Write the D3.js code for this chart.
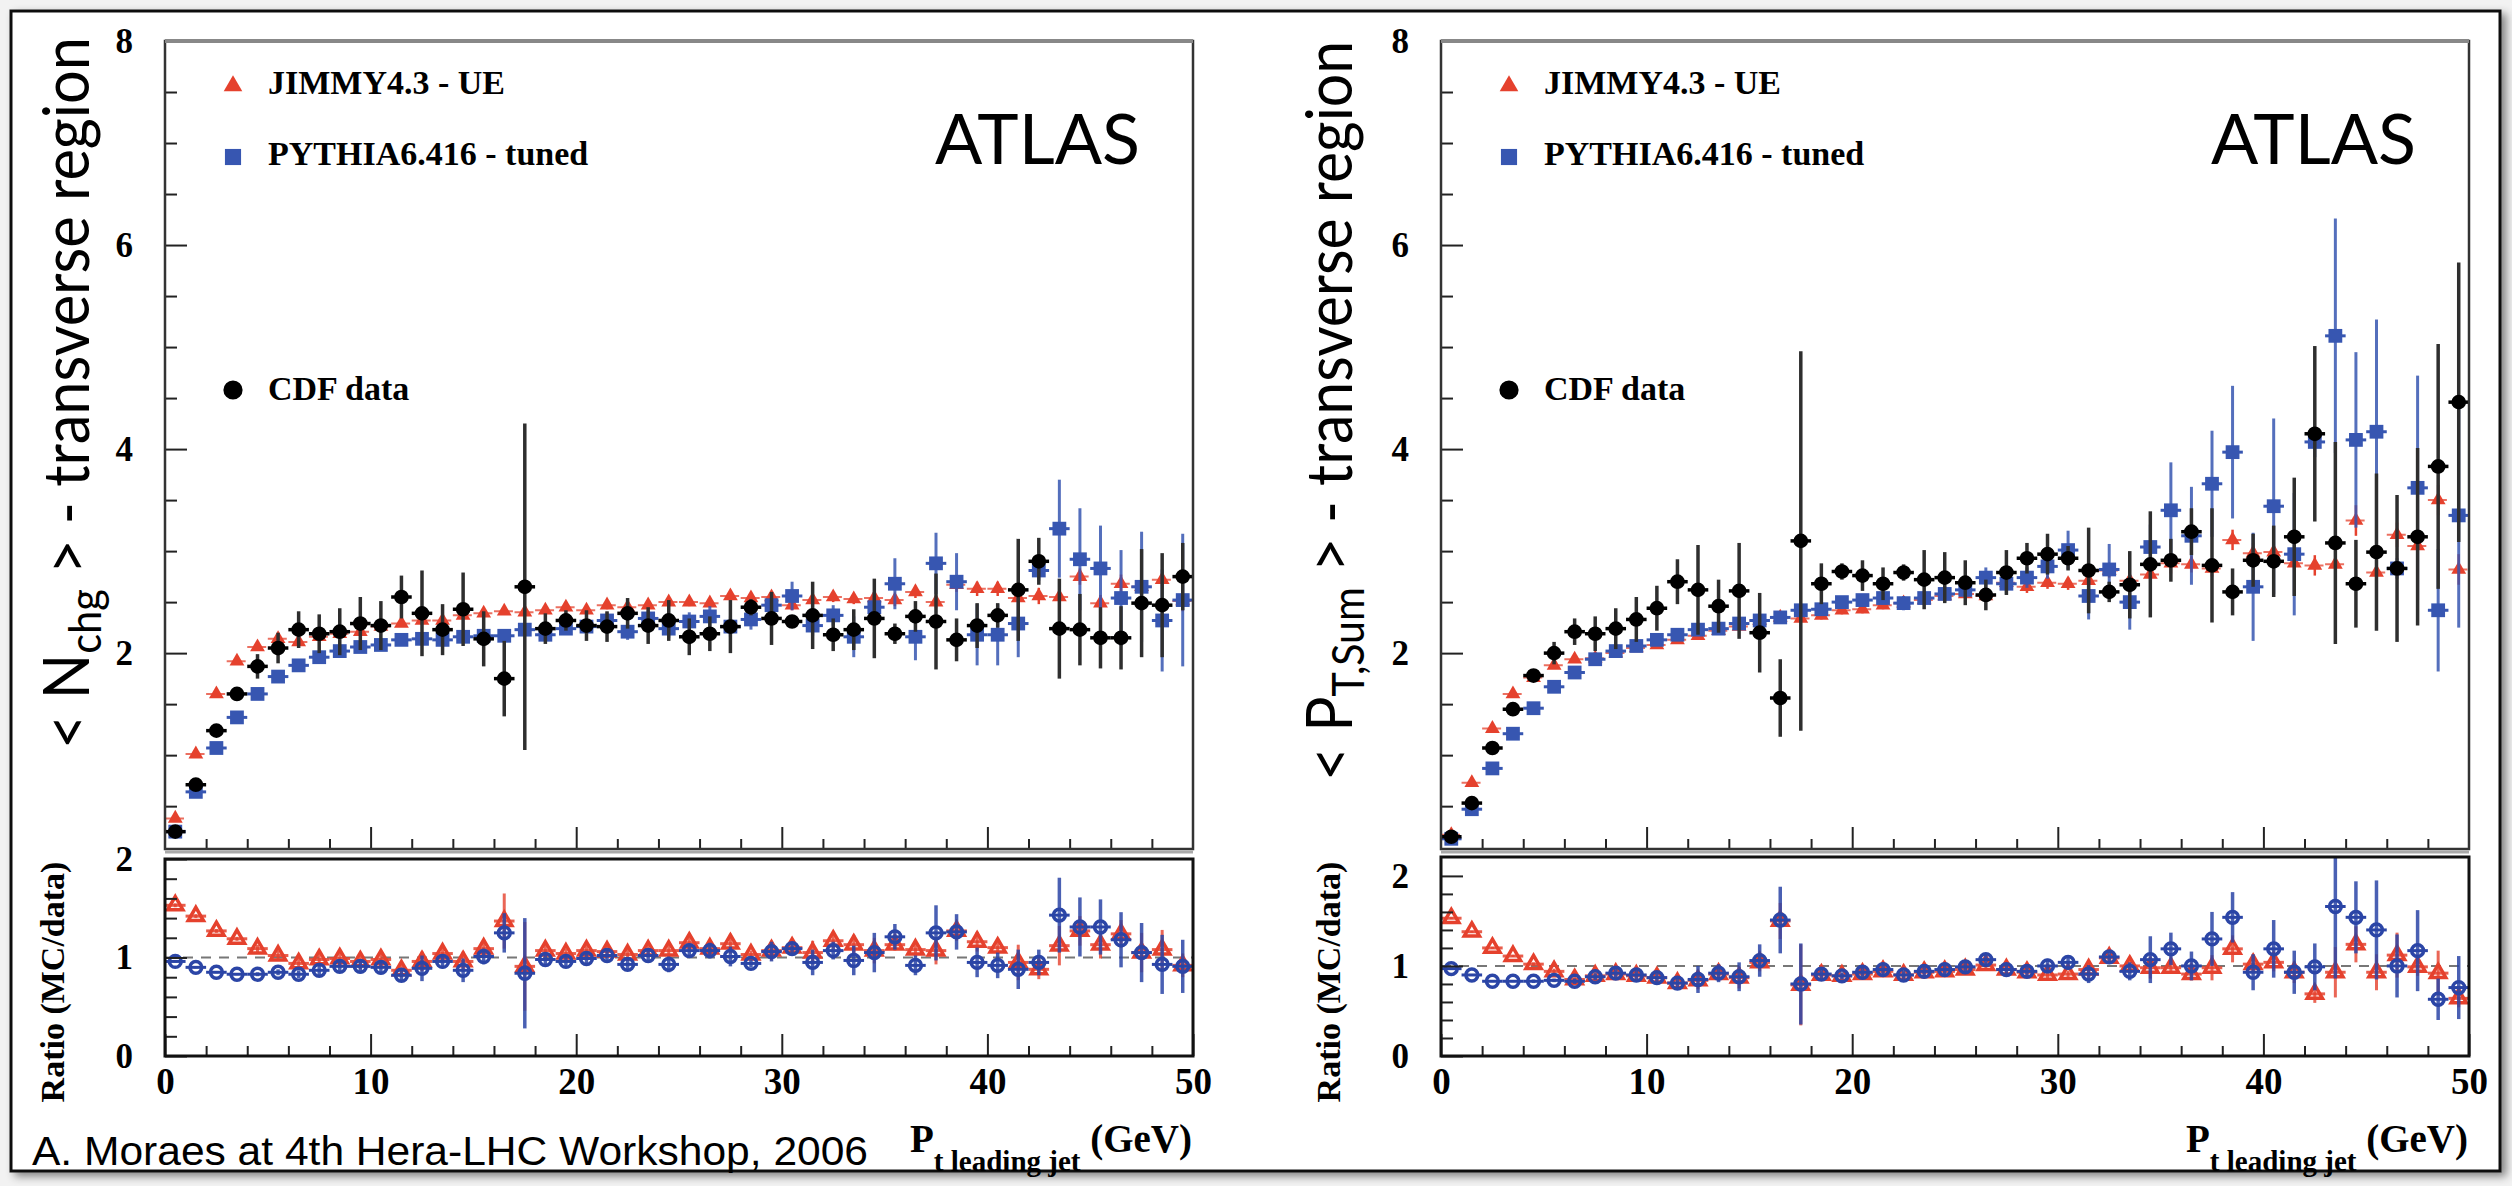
<!DOCTYPE html>
<html>
<head>
<meta charset="utf-8">
<script src="https://cdn.jsdelivr.net/npm/d3@7"></script>
<style>
  body { margin: 0; background: #f2f2f2; }
  svg { display: block; }
  .tick text { font-family: "Liberation Serif", "Times New Roman", serif; font-weight: bold; fill: #000; }
  .tick line { stroke: #222; stroke-width: 2; }
</style>
</head>
<body>
<svg id="chart" width="2512" height="1186"></svg>
<script>
// bin centres of the leading jet pt (GeV)
var ptBins = [0.5, 1.5, 2.5, 3.5, 4.5, 5.5, 6.5, 7.5, 8.5, 9.5, 10.5, 11.5, 12.5, 13.5, 14.5,
  15.5, 16.5, 17.5, 18.5, 19.5, 20.5, 21.5, 22.5, 23.5, 24.5, 25.5, 26.5, 27.5, 28.5, 29.5,
  30.5, 31.5, 32.5, 33.5, 34.5, 35.5, 36.5, 37.5, 38.5, 39.5, 40.5, 41.5, 42.5, 43.5, 44.5,
  45.5, 46.5, 47.5, 48.5, 49.5];

var xTickLabels = [0, 10, 20, 30, 40, 50];
var topYTickLabels = [2, 4, 6, 8];
var ratioYTickLabels = [0, 1, 2];

// ---- < Nchg > transverse region ----
var nchgJimmy = [0.38, 1.01, 1.60, 1.92, 2.06, 2.14, 2.11, 2.16, 2.19, 2.21, 2.26, 2.29, 2.32, 2.32, 2.37, 2.39, 2.41, 2.40, 2.42, 2.45, 2.42, 2.47, 2.45, 2.47, 2.50,
  2.50, 2.49, 2.56, 2.54, 2.55, 2.47, 2.52, 2.55, 2.53, 2.54, 2.52, 2.60, 2.50, 2.67, 2.63, 2.63, 2.54, 2.56, 2.55, 2.75, 2.49, 2.68, 2.65, 2.72, 2.51];
var nchgJimmyErr = [0.01, 0.01, 0.01, 0.02, 0.02, 0.02, 0.02, 0.02, 0.02, 0.02, 0.03, 0.03, 0.03, 0.03, 0.03, 0.03, 0.03, 0.03, 0.04, 0.04, 0.04, 0.04, 0.04, 0.04, 0.04,
  0.04, 0.04, 0.05, 0.05, 0.05, 0.05, 0.05, 0.05, 0.05, 0.06, 0.06, 0.06, 0.06, 0.07, 0.07, 0.07, 0.07, 0.08, 0.08, 0.08, 0.08, 0.09, 0.09, 0.09, 0.10];
var nchgPythia = [0.25, 0.64, 1.07, 1.37, 1.60, 1.77, 1.88, 1.96, 2.02, 2.06, 2.08, 2.13, 2.14, 2.13, 2.16, 2.17, 2.17, 2.23, 2.18, 2.24, 2.26, 2.32, 2.21, 2.34, 2.24,
  2.31, 2.36, 2.26, 2.33, 2.47, 2.56, 2.27, 2.37, 2.16, 2.45, 2.68, 2.16, 2.88, 2.70, 2.18, 2.18, 2.29, 2.81, 3.22, 2.92, 2.83, 2.54, 2.65, 2.32, 2.52];
var nchgPythiaErr = [0.01, 0.01, 0.01, 0.02, 0.02, 0.02, 0.02, 0.03, 0.03, 0.03, 0.03, 0.03, 0.04, 0.04, 0.04, 0.05, 0.05, 0.05, 0.06, 0.06, 0.07, 0.08, 0.08, 0.08, 0.09,
  0.09, 0.10, 0.10, 0.10, 0.11, 0.14, 0.10, 0.10, 0.20, 0.15, 0.25, 0.23, 0.30, 0.28, 0.30, 0.30, 0.33, 0.10, 0.48, 0.50, 0.42, 0.47, 0.54, 0.50, 0.65];
var nchgCdf = [0.25, 0.71, 1.24, 1.60, 1.87, 2.05, 2.23, 2.19, 2.21, 2.29, 2.27, 2.55, 2.39, 2.23, 2.43, 2.14, 1.75, 2.65, 2.24, 2.32, 2.27, 2.26, 2.39, 2.27, 2.32,
  2.16, 2.19, 2.26, 2.45, 2.34, 2.31, 2.37, 2.18, 2.23, 2.34, 2.19, 2.36, 2.31, 2.13, 2.27, 2.37, 2.62, 2.90, 2.24, 2.23, 2.15, 2.15, 2.49, 2.47, 2.75];
var nchgCdfErr = [0.01, 0.02, 0.03, 0.05, 0.12, 0.15, 0.18, 0.19, 0.23, 0.26, 0.24, 0.21, 0.42, 0.25, 0.36, 0.27, 0.37, 1.60, 0.15, 0.10, 0.15, 0.15, 0.15, 0.18, 0.20,
  0.18, 0.17, 0.26, 0.08, 0.26, 0.05, 0.33, 0.16, 0.20, 0.39, 0.10, 0.15, 0.47, 0.21, 0.22, 0.12, 0.50, 0.23, 0.49, 0.35, 0.30, 0.31, 0.53, 0.51, 0.33];
var nchgRatioJimmy = [1.53, 1.42, 1.27, 1.19, 1.09, 1.02, 0.94, 0.98, 0.99, 0.96, 0.98, 0.87, 0.96, 1.04, 0.96, 1.09, 1.37, 0.91, 1.07, 1.04, 1.07, 1.06, 1.03, 1.07, 1.07,
  1.15, 1.09, 1.14, 1.03, 1.07, 1.10, 1.05, 1.17, 1.13, 1.07, 1.13, 1.08, 1.07, 1.27, 1.16, 1.10, 0.95, 0.88, 1.12, 1.27, 1.13, 1.24, 1.05, 1.08, 0.92];
var nchgRatioJimmyErr = [0.02, 0.02, 0.02, 0.02, 0.04, 0.05, 0.06, 0.07, 0.08, 0.08, 0.08, 0.07, 0.10, 0.08, 0.10, 0.09, 0.28, 0.45, 0.07, 0.05, 0.06, 0.06, 0.06, 0.07, 0.08,
  0.07, 0.07, 0.10, 0.04, 0.10, 0.04, 0.12, 0.08, 0.10, 0.13, 0.06, 0.07, 0.14, 0.10, 0.10, 0.06, 0.18, 0.10, 0.20, 0.15, 0.14, 0.14, 0.20, 0.20, 0.12];
var nchgRatioPythia = [0.96, 0.90, 0.85, 0.83, 0.83, 0.85, 0.83, 0.87, 0.91, 0.91, 0.90, 0.82, 0.89, 0.96, 0.87, 1.01, 1.25, 0.84, 0.98, 0.96, 0.99, 1.02, 0.93, 1.02, 0.93,
  1.07, 1.07, 1.01, 0.94, 1.06, 1.09, 0.95, 1.07, 0.97, 1.05, 1.21, 0.92, 1.25, 1.26, 0.95, 0.92, 0.88, 0.95, 1.43, 1.31, 1.31, 1.18, 1.05, 0.93, 0.91];
var nchgRatioPythiaErr = [0.01, 0.01, 0.01, 0.01, 0.02, 0.03, 0.04, 0.05, 0.06, 0.07, 0.07, 0.06, 0.13, 0.07, 0.12, 0.08, 0.20, 0.56, 0.06, 0.05, 0.05, 0.06, 0.06, 0.07, 0.08,
  0.07, 0.08, 0.10, 0.04, 0.10, 0.05, 0.13, 0.09, 0.15, 0.20, 0.13, 0.10, 0.28, 0.18, 0.15, 0.13, 0.20, 0.13, 0.38, 0.30, 0.28, 0.28, 0.30, 0.30, 0.27];

// ---- < PT,Sum > transverse region ----
var ptsumJimmy = [0.22, 0.73, 1.26, 1.60, 1.76, 1.88, 1.94, 1.95, 2.00, 2.05, 2.08, 2.13, 2.17, 2.22, 2.26, 2.32, 2.35, 2.34, 2.37, 2.42, 2.43, 2.47, 2.49, 2.52, 2.56,
  2.58, 2.56, 2.69, 2.65, 2.69, 2.68, 2.71, 2.81, 2.71, 2.77, 2.88, 2.87, 2.83, 3.11, 2.98, 2.99, 2.88, 2.86, 2.87, 3.30, 2.79, 3.16, 3.05, 3.50, 2.82];
var ptsumJimmyErr = [0.01, 0.01, 0.02, 0.02, 0.02, 0.02, 0.02, 0.02, 0.02, 0.02, 0.03, 0.03, 0.03, 0.03, 0.03, 0.03, 0.03, 0.03, 0.04, 0.04, 0.04, 0.04, 0.04, 0.05, 0.05,
  0.05, 0.05, 0.06, 0.06, 0.06, 0.06, 0.06, 0.07, 0.07, 0.08, 0.10, 0.08, 0.08, 0.10, 0.10, 0.10, 0.10, 0.10, 0.12, 0.15, 0.12, 0.12, 0.14, 0.15, 0.15];
var ptsumPythia = [0.18, 0.47, 0.87, 1.21, 1.46, 1.67, 1.81, 1.94, 2.02, 2.07, 2.13, 2.18, 2.23, 2.24, 2.29, 2.32, 2.35, 2.42, 2.43, 2.50, 2.52, 2.54, 2.49, 2.54, 2.58,
  2.62, 2.74, 2.68, 2.74, 2.85, 3.01, 2.56, 2.82, 2.50, 3.04, 3.40, 3.15, 3.66, 3.97, 2.65, 3.44, 2.97, 4.07, 5.11, 4.09, 4.17, 2.83, 3.62, 2.42, 3.35];
var ptsumPythiaErr = [0.01, 0.01, 0.01, 0.01, 0.02, 0.02, 0.02, 0.02, 0.03, 0.03, 0.03, 0.03, 0.03, 0.04, 0.04, 0.04, 0.05, 0.05, 0.05, 0.05, 0.06, 0.06, 0.07, 0.07, 0.08,
  0.08, 0.10, 0.10, 0.10, 0.12, 0.19, 0.23, 0.25, 0.27, 0.22, 0.47, 0.48, 0.52, 0.65, 0.53, 0.86, 0.60, 0.15, 1.15, 0.86, 1.10, 0.10, 1.10, 0.60, 1.10];
var ptsumCdf = [0.20, 0.53, 1.07, 1.45, 1.78, 2.00, 2.21, 2.19, 2.24, 2.33, 2.44, 2.70, 2.62, 2.46, 2.61, 2.20, 1.56, 3.10, 2.68, 2.80, 2.76, 2.68, 2.79, 2.72, 2.74,
  2.69, 2.57, 2.79, 2.93, 2.97, 2.93, 2.81, 2.60, 2.67, 2.87, 2.91, 3.19, 2.86, 2.60, 2.91, 2.90, 3.14, 4.15, 3.08, 2.68, 2.99, 2.83, 3.14, 3.83, 4.46];
var ptsumCdfErr = [0.01, 0.02, 0.02, 0.03, 0.03, 0.11, 0.13, 0.17, 0.20, 0.22, 0.22, 0.22, 0.44, 0.26, 0.47, 0.39, 0.38, 1.86, 0.20, 0.08, 0.15, 0.16, 0.08, 0.29, 0.25,
  0.22, 0.15, 0.22, 0.15, 0.20, 0.12, 0.42, 0.10, 0.33, 0.52, 0.21, 0.23, 0.56, 0.23, 0.26, 0.35, 0.58, 0.86, 0.99, 0.43, 0.77, 0.72, 0.87, 1.20, 1.37];
var ptsumRatioJimmy = [1.53, 1.38, 1.20, 1.11, 1.02, 0.94, 0.85, 0.89, 0.91, 0.89, 0.87, 0.81, 0.84, 0.91, 0.87, 1.04, 1.50, 0.79, 0.90, 0.89, 0.91, 0.94, 0.90, 0.93, 0.94,
  0.96, 1.01, 0.96, 0.93, 0.90, 0.91, 0.96, 1.09, 1.00, 0.98, 0.98, 0.91, 0.98, 1.19, 1.02, 1.04, 0.93, 0.69, 0.93, 1.24, 0.93, 1.12, 0.99, 0.92, 0.64];
var ptsumRatioJimmyErr = [0.01, 0.01, 0.01, 0.01, 0.02, 0.03, 0.04, 0.05, 0.05, 0.06, 0.06, 0.06, 0.10, 0.07, 0.12, 0.10, 0.20, 0.45, 0.05, 0.03, 0.05, 0.05, 0.04, 0.07, 0.06,
  0.06, 0.04, 0.06, 0.05, 0.06, 0.04, 0.10, 0.04, 0.08, 0.12, 0.06, 0.07, 0.14, 0.15, 0.08, 0.10, 0.12, 0.10, 0.28, 0.20, 0.20, 0.25, 0.10, 0.25, 0.10];
var ptsumRatioPythia = [0.97, 0.90, 0.83, 0.83, 0.83, 0.84, 0.83, 0.88, 0.92, 0.90, 0.87, 0.81, 0.85, 0.92, 0.88, 1.06, 1.51, 0.80, 0.91, 0.89, 0.93, 0.96, 0.90, 0.94, 0.96,
  0.99, 1.07, 0.96, 0.94, 1.00, 1.04, 0.91, 1.10, 0.94, 1.07, 1.19, 1.00, 1.30, 1.54, 0.93, 1.19, 0.93, 0.99, 1.66, 1.54, 1.40, 1.00, 1.17, 0.63, 0.76];
var ptsumRatioPythiaErr = [0.01, 0.01, 0.01, 0.01, 0.02, 0.02, 0.03, 0.04, 0.05, 0.05, 0.05, 0.06, 0.15, 0.10, 0.16, 0.18, 0.37, 0.45, 0.05, 0.04, 0.05, 0.05, 0.05, 0.06, 0.06,
  0.06, 0.06, 0.05, 0.05, 0.08, 0.08, 0.10, 0.06, 0.10, 0.26, 0.18, 0.16, 0.30, 0.28, 0.20, 0.32, 0.24, 0.26, 0.80, 0.40, 0.55, 0.35, 0.45, 0.23, 0.35];

var RED = "#e5412d", BLUE = "#3756b1", BLACK = "#000";
var serif = '"Liberation Serif", "Times New Roman", serif';
var gill = 'Lato, "Open Sans", sans-serif';

var svg = d3.select("#chart");
var defs = svg.append("defs");

var shadow = defs.append("filter").attr("id", "shadow")
  .attr("x", "-2%").attr("y", "-2%").attr("width", "104%").attr("height", "105%");
shadow.append("feDropShadow").attr("dx", 5).attr("dy", 4)
  .attr("stdDeviation", 4).attr("flood-color", "#000").attr("flood-opacity", 0.45);

// slide frame
svg.append("rect")
  .attr("x", 11).attr("y", 11).attr("width", 2489).attr("height", 1160)
  .attr("fill", "#fff").attr("stroke", "#111").attr("stroke-width", 3)
  .attr("filter", "url(#shadow)");

var triangle = d3.symbol().type(d3.symbolTriangle);
var square = d3.symbol().type(d3.symbolSquare);

function notInt(v) {
  return Math.abs(v - Math.round(v)) > 1e-6;
}

// vertical error bars, horizontal bin-width bars and markers of one series
function drawSeries(g, x, y, vals, errs, st) {
  var s = g.append("g");
  s.append("g").selectAll("line").data(vals).join("line")
    .attr("x1", function (d, i) { return x(ptBins[i] - 0.5); })
    .attr("x2", function (d, i) { return x(ptBins[i] + 0.5); })
    .attr("y1", function (d) { return y(d); })
    .attr("y2", function (d) { return y(d); })
    .attr("stroke", st.color)
    .attr("stroke-width", st.hWidth)
    .attr("stroke-dasharray", st.dash || null)
    .attr("opacity", st.hOpacity || 1);
  s.append("g").selectAll("line").data(vals).join("line")
    .attr("x1", function (d, i) { return x(ptBins[i]); })
    .attr("x2", function (d, i) { return x(ptBins[i]); })
    .attr("y1", function (d, i) { return y(d - errs[i]); })
    .attr("y2", function (d, i) { return y(d + errs[i]); })
    .attr("stroke", st.errColor || st.color)
    .attr("stroke-width", st.eWidth)
    .attr("opacity", st.eOpacity || 1);

  var m = s.append("g").selectAll("path").data(vals).join("path")
    .attr("transform", function (d, i) {
      return "translate(" + x(ptBins[i]) + "," + y(d) + ")";
    });
  if (st.marker === "triangle") {
    m.attr("d", triangle.size(st.size)());
  } else if (st.marker === "square") {
    m.attr("d", square.size(st.size)());
  } else {
    m.attr("d", d3.symbol().type(d3.symbolCircle).size(st.size)());
  }
  if (st.open) {
    m.attr("fill", "none").attr("stroke", st.color).attr("stroke-width", st.strokeWidth);
  } else {
    m.attr("fill", st.color);
  }
}

function drawPanel(p) {
  var topTop = 41, topBottom = 849, ratioBottom = 1056;
  var x = d3.scaleLinear().domain([0, 50]).range([p.left, p.right]);
  var yTop = d3.scaleLinear().domain([0.08, 8]).range([topBottom, topTop]);
  var yRatio = d3.scaleLinear().domain(p.ratioDomain).range([ratioBottom, p.ratioTop]);

  defs.append("clipPath").attr("id", "clipTop" + p.id).append("rect")
    .attr("x", p.left).attr("y", topTop)
    .attr("width", p.right - p.left).attr("height", topBottom - topTop);
  defs.append("clipPath").attr("id", "clipRatio" + p.id).append("rect")
    .attr("x", p.left).attr("y", p.ratioTop)
    .attr("width", p.right - p.left).attr("height", ratioBottom - p.ratioTop);

  // ---------- upper panel ----------
  var xMinor = d3.range(2, 50, 2).filter(function (v) { return v % 10 !== 0; });

  svg.append("g").attr("transform", "translate(0," + topBottom + ")")
    .call(d3.axisBottom(x).tickValues(xMinor).tickSize(-10).tickFormat(""))
    .call(function (a) { a.select(".domain").remove(); });
  svg.append("g").attr("transform", "translate(0," + topBottom + ")")
    .call(d3.axisBottom(x).tickValues([10, 20, 30, 40]).tickSize(-22).tickFormat(""))
    .call(function (a) { a.select(".domain").remove(); });

  var yMinor = d3.range(0.5, 8, 0.5).filter(function (v) { return v % 2 !== 0; });
  svg.append("g").attr("transform", "translate(" + p.left + ",0)")
    .call(d3.axisLeft(yTop).tickValues(yMinor).tickSize(-12).tickFormat(""))
    .call(function (a) { a.select(".domain").remove(); });
  svg.append("g").attr("transform", "translate(" + p.left + ",0)")
    .call(d3.axisLeft(yTop).tickValues(topYTickLabels).tickSize(-22).tickPadding(32)
      .tickFormat(d3.format("d")))
    .call(function (a) {
      a.select(".domain").remove();
      a.selectAll("text").attr("font-size", 35);
    });

  var gt = svg.append("g").attr("clip-path", "url(#clipTop" + p.id + ")");
  drawSeries(gt, x, yTop, p.jimmy, p.jimmyErr, {
    color: RED, hWidth: 2, dash: "7,5", hOpacity: 0.75, eWidth: 2.5,
    marker: "triangle", size: 95
  });
  drawSeries(gt, x, yTop, p.pythia, p.pythiaErr, {
    color: BLUE, hWidth: 3, eWidth: 3, eOpacity: 0.85,
    marker: "square", size: 190
  });
  drawSeries(gt, x, yTop, p.cdf, p.cdfErr, {
    color: BLACK, errColor: "#2e2e2e", hWidth: 3.5, eWidth: 3.5,
    marker: "circle", size: 170
  });

  // frame of the upper panel
  svg.append("rect")
    .attr("x", p.left).attr("y", topTop)
    .attr("width", p.right - p.left).attr("height", topBottom - topTop)
    .attr("fill", "none").attr("stroke", "#333").attr("stroke-width", 2.5);
  svg.append("line")
    .attr("x1", p.left).attr("x2", p.right).attr("y1", topTop).attr("y2", topTop)
    .attr("stroke", "#888").attr("stroke-width", 4);
  svg.append("line")
    .attr("x1", p.left).attr("x2", p.right).attr("y1", topBottom + 3).attr("y2", topBottom + 3)
    .attr("stroke", "#aaa").attr("stroke-width", 3);

  // legend
  var lx = p.left + 68;
  var legend = [
    { label: "JIMMY4.3 - UE", y: 94, cy: 86, marker: "triangle", color: RED },
    { label: "PYTHIA6.416 - tuned", y: 165, cy: 157, marker: "square", color: BLUE },
    { label: "CDF data", y: 400, cy: 390, marker: "circle", color: BLACK }
  ];
  var lg = svg.append("g");
  lg.selectAll("path").data(legend).join("path")
    .attr("transform", function (d) { return "translate(" + lx + "," + d.cy + ")"; })
    .attr("d", function (d) {
      if (d.marker === "triangle") return triangle.size(150)();
      if (d.marker === "square") return square.size(260)();
      return d3.symbol().type(d3.symbolCircle).size(290)();
    })
    .attr("fill", function (d) { return d.color; });
  lg.selectAll("text").data(legend).join("text")
    .attr("x", lx + 35)
    .attr("y", function (d) { return d.y; })
    .attr("font-family", serif).attr("font-weight", "bold").attr("font-size", 34)
    .text(function (d) { return d.label; });

  svg.append("text")
    .attr("x", p.right - 53).attr("y", 164)
    .attr("text-anchor", "end")
    .attr("font-family", gill).attr("font-size", 70)
    .text("ATLAS");

  // ---------- ratio panel ----------
  svg.append("line")
    .attr("x1", p.left).attr("x2", p.right)
    .attr("y1", yRatio(1)).attr("y2", yRatio(1))
    .attr("stroke", "#777").attr("stroke-width", 2).attr("stroke-dasharray", "10,8");

  var gr = svg.append("g").attr("clip-path", "url(#clipRatio" + p.id + ")");
  drawSeries(gr, x, yRatio, p.rJimmy, p.rJimmyErr, {
    color: RED, hWidth: 3, eWidth: 3, eOpacity: 0.8, hOpacity: 0.85,
    marker: "triangle", size: 100, open: true, strokeWidth: 3.5
  });
  drawSeries(gr, x, yRatio, p.rPythia, p.rPythiaErr, {
    color: "#2b45a6", hWidth: 3, eWidth: 3.5, eOpacity: 0.85,
    marker: "circle", size: 110, open: true, strokeWidth: 3.5
  });

  svg.append("g").attr("transform", "translate(0," + ratioBottom + ")")
    .call(d3.axisBottom(x).tickValues(xMinor).tickSize(-10).tickFormat(""))
    .call(function (a) { a.select(".domain").remove(); });
  svg.append("g").attr("transform", "translate(0," + ratioBottom + ")")
    .call(d3.axisBottom(x).tickValues(xTickLabels).tickSize(-22).tickPadding(12)
      .tickFormat(d3.format("d")))
    .call(function (a) {
      a.select(".domain").remove();
      a.selectAll("text").attr("font-size", 37);
    });

  var rMinor = d3.range(0.2, p.ratioDomain[1] - 0.1, 0.2).filter(notInt);
  svg.append("g").attr("transform", "translate(" + p.left + ",0)")
    .call(d3.axisLeft(yRatio).tickValues(rMinor).tickSize(-12).tickFormat(""))
    .call(function (a) { a.select(".domain").remove(); });
  svg.append("g").attr("transform", "translate(" + p.left + ",0)")
    .call(d3.axisLeft(yRatio).tickValues(ratioYTickLabels).tickSize(-22).tickPadding(32)
      .tickFormat(d3.format("d")))
    .call(function (a) {
      a.select(".domain").remove();
      a.selectAll("text").attr("font-size", 35);
    });

  svg.append("rect")
    .attr("x", p.left).attr("y", p.ratioTop)
    .attr("width", p.right - p.left).attr("height", ratioBottom - p.ratioTop)
    .attr("fill", "none").attr("stroke", "#111").attr("stroke-width", 3);

  // axis titles
  svg.append("text")
    .attr("transform", "translate(" + (p.left - 101) + ",982) rotate(-90)")
    .attr("text-anchor", "middle")
    .attr("font-family", serif).attr("font-weight", "bold").attr("font-size", 34)
    .text("Ratio (MC/data)");

  var yt = svg.append("text")
    .attr("transform", "translate(" + p.titleX + "," + p.titleY + ") rotate(-90)")
    .attr("font-family", gill).attr("font-size", 63)
    .attr("textLength", p.titleLen).attr("lengthAdjust", "spacingAndGlyphs");
  yt.append("tspan").text("< " + p.titleVar);
  yt.append("tspan").attr("font-size", 44).attr("dy", 12).text(p.titleSub);
  yt.append("tspan").attr("dy", -12).text(" > - transverse region");

  var xl = svg.append("text")
    .attr("x", p.right - 1).attr("y", 1152)
    .attr("text-anchor", "end")
    .attr("font-family", serif).attr("font-weight", "bold").attr("font-size", 39);
  xl.append("tspan").text("P");
  xl.append("tspan").attr("font-size", 29).attr("dy", 19).text("t leading jet");
  xl.append("tspan").attr("dy", -19).text(" (GeV)");
}

drawPanel({
  id: "L", left: 165, right: 1193, ratioTop: 859, ratioDomain: [0, 2],
  jimmy: nchgJimmy, jimmyErr: nchgJimmyErr,
  pythia: nchgPythia, pythiaErr: nchgPythiaErr,
  cdf: nchgCdf, cdfErr: nchgCdfErr,
  rJimmy: nchgRatioJimmy, rJimmyErr: nchgRatioJimmyErr,
  rPythia: nchgRatioPythia, rPythiaErr: nchgRatioPythiaErr,
  titleX: 89, titleY: 749, titleLen: 712, titleVar: "N", titleSub: "chg"
});

drawPanel({
  id: "R", left: 1441, right: 2469, ratioTop: 857, ratioDomain: [0, 2.21],
  jimmy: ptsumJimmy, jimmyErr: ptsumJimmyErr,
  pythia: ptsumPythia, pythiaErr: ptsumPythiaErr,
  cdf: ptsumCdf, cdfErr: ptsumCdfErr,
  rJimmy: ptsumRatioJimmy, rJimmyErr: ptsumRatioJimmyErr,
  rPythia: ptsumRatioPythia, rPythiaErr: ptsumRatioPythiaErr,
  titleX: 1352, titleY: 781, titleLen: 740, titleVar: "P", titleSub: "T,Sum"
});

svg.append("text")
  .attr("x", 32).attr("y", 1165)
  .attr("font-family", '"Liberation Sans Narrow", "Liberation Sans", Arial, sans-serif')
  .attr("font-size", 40)
  .attr("textLength", 836).attr("lengthAdjust", "spacingAndGlyphs")
  .text("A. Moraes at 4th Hera-LHC Workshop, 2006");
</script>
</body>
</html>
